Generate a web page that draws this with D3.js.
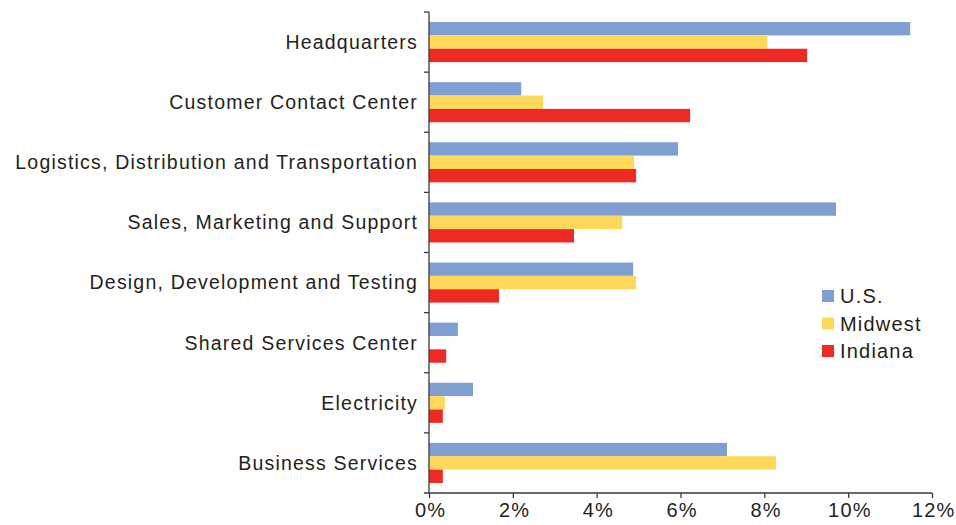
<!DOCTYPE html>
<html>
<head>
<meta charset="utf-8">
<script src="https://cdn.jsdelivr.net/npm/d3@7"></script>
<style>
  body { margin: 0; background: #fff; }
  text { font-family: "Liberation Sans", Arial, sans-serif; fill: #231f20; letter-spacing: 1.2px; }
</style>
</head>
<body>
<script>
const categories = [
  "Headquarters",
  "Customer Contact Center",
  "Logistics, Distribution and Transportation",
  "Sales, Marketing and Support",
  "Design, Development and Testing",
  "Shared Services Center",
  "Electricity",
  "Business Services"
];
const seriesNames = ["U.S.", "Midwest", "Indiana"];
const usValues      = [11.48, 2.20, 5.94, 9.71, 4.87, 0.69, 1.05, 7.11];
const midwestValues = [8.07, 2.72, 4.89, 4.61, 4.94, 0.00, 0.38, 8.28];
const indianaValues = [9.02, 6.23, 4.94, 3.46, 1.67, 0.41, 0.33, 0.33];
const xTicks = [0, 2, 4, 6, 8, 10, 12];
const colors = ["#7f9fd3", "#fdd85a", "#ee2a24"];

function makeChart() {
  const width = 956;
  const height = 525;
  const margin = { top: 12, right: 24, bottom: 32, left: 429 };

  const series = [usValues, midwestValues, indianaValues];

  const svg = d3.select("body").append("svg")
    .attr("width", width)
    .attr("height", height);

  // x scale
  const xScale = d3.scaleLinear()
    .domain([0, 12])
    .range([margin.left, margin.left + 503]);

  // y scale (bands)
  const yScale = d3.scaleBand()
    .domain(categories)
    .range([margin.top, height - margin.bottom]);

  const inner = d3.scaleBand()
    .domain(seriesNames)
    .range([0, yScale.bandwidth()])
    .paddingOuter(0.75);

  // bars
  seriesNames.forEach((name, si) => {
    svg.append("g")
      .selectAll("rect")
      .data(categories)
      .join("rect")
      .attr("x", xScale(0))
      .attr("y", c => yScale(c) + inner(name))
      .attr("width", (c, i) => xScale(series[si][i]) - xScale(0))
      .attr("height", inner.bandwidth())
      .attr("fill", colors[si]);
  });

  // x axis
  const xAxis = d3.axisBottom(xScale)
    .tickValues(xTicks)
    .tickFormat(d => d + "%")
    .tickSize(5)
    .tickPadding(5);

  const gx = svg.append("g")
    .attr("transform", "translate(0," + (height - margin.bottom) + ")")
    .call(xAxis);
  gx.select(".domain").attr("d", `M${xScale(0) - 5},0H${xScale(12)}`).attr("stroke", "#3a3a3a").attr("stroke-width", 1.3);
  gx.selectAll(".tick line").attr("stroke", "#3a3a3a").attr("stroke-width", 1.3);
  gx.selectAll(".tick text")
    .style("font-size", "20px")
    .style("font-family", "'Liberation Sans', Arial, sans-serif")
    .attr("dx", "0.06em")
    .attr("fill", "#231f20");

  // y axis with ticks between categories
  const gy = svg.append("g");
  gy.append("line")
    .attr("x1", xScale(0)).attr("x2", xScale(0))
    .attr("y1", margin.top).attr("y2", height - margin.bottom)
    .attr("stroke", "#3a3a3a").attr("stroke-width", 1.3);
  gy.selectAll("line.sep")
    .data(categories)
    .join("line")
    .attr("class", "sep")
    .attr("x1", xScale(0) - 5).attr("x2", xScale(0))
    .attr("y1", c => yScale(c)).attr("y2", c => yScale(c))
    .attr("stroke", "#3a3a3a").attr("stroke-width", 1.3);

  gy.selectAll("text")
    .data(categories)
    .join("text")
    .attr("x", xScale(0) - 11)
    .attr("y", c => yScale(c) + yScale.bandwidth() / 2)
    .attr("dy", "0.35em")
    .attr("text-anchor", "end")
    .style("font-size", "19.5px")
    .text(c => c);

  // legend
  const legend = svg.append("g").attr("transform", "translate(822,290)");
  seriesNames.forEach((name, i) => {
    const row = legend.append("g").attr("transform", `translate(0,${i * 27.5})`);
    row.append("rect").attr("width", 12).attr("height", 12).attr("fill", colors[i]);
    row.append("text").attr("x", 18).attr("y", 6).attr("dy", "0.35em")
      .style("font-size", "20px").text(name);
  });
}

makeChart();
</script>
</body>
</html>
